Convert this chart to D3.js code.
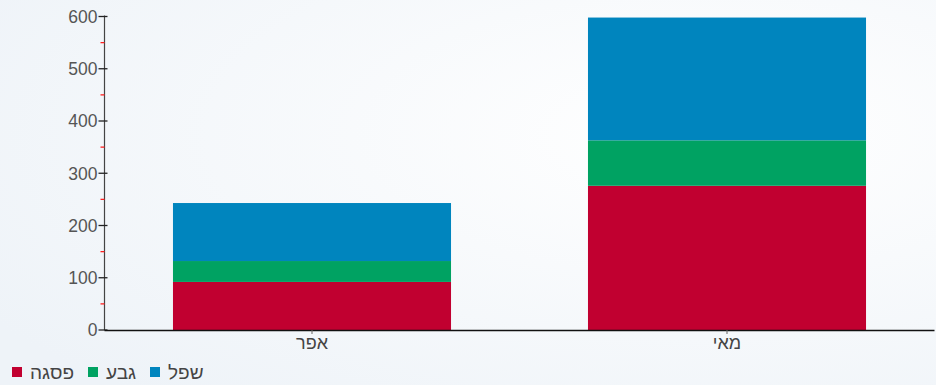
<!DOCTYPE html>
<html><head><meta charset="utf-8">
<script src="https://cdn.jsdelivr.net/npm/d3@7"></script>
<style>
html,body{margin:0;padding:0;}
body{width:936px;height:385px;overflow:hidden;font-family:"Liberation Sans",Arial,sans-serif;}
</style></head>
<body>
<svg id="c" width="936" height="385"></svg>
<script>
const categories = ["אפר", "מאי"];
const seriesNames = ["פסגה", "גבע", "שפל"];
const seriesColors = ["#c10030", "#00a262", "#0085be"];
const pisga = [92, 276];
const geva = [40, 87];
const shefel = [111, 235];
const yTicks = [0, 100, 200, 300, 400, 500, 600];
const yMinorTicks = [50, 150, 250, 350, 450, 550];

const svg = d3.select("#c");
const defs = svg.append("defs");
const grad = defs.append("radialGradient").attr("id","bg").attr("cx","0.75").attr("cy","0.35").attr("r","0.9");
grad.append("stop").attr("offset","0").attr("stop-color","#ffffff");
grad.append("stop").attr("offset","1").attr("stop-color","#eef3f8");
svg.append("rect").attr("width",936).attr("height",385).attr("fill","url(#bg)");

const x0 = 104.5, x1 = 934.5, yTop = 16.5, yBot = 330;
const x = d3.scaleBand().domain(categories).range([x0, x1]).paddingInner(0.33).paddingOuter(0.165);
const y = d3.scaleLinear().domain([0, 600]).range([yBot, yTop]);

const rows = categories.map((c, i) => ({cat: c, "פסגה": pisga[i], "גבע": geva[i], "שפל": shefel[i]}));
const stack = d3.stack().keys(seriesNames)(rows);

const g = svg.append("g");
stack.forEach((layer, li) => {
  g.selectAll(null).data(layer).enter().append("rect")
    .attr("x", d => x(d.data.cat))
    .attr("width", x.bandwidth())
    .attr("y", d => y(d[1]))
    .attr("height", d => y(d[0]) - y(d[1]))
    .attr("fill", seriesColors[li]);
});

// Y axis
const ya = svg.append("g").attr("transform", `translate(${x0},0)`);
ya.append("line").attr("y1", yTop - 1).attr("y2", yBot).attr("stroke", "#444").attr("stroke-width", 1.2);
ya.selectAll(".mj").data(yTicks).enter().append("line")
  .attr("x1", -6).attr("x2", 3).attr("y1", d => y(d)).attr("y2", d => y(d)).attr("stroke", "#222").attr("stroke-width", 1.3);
ya.selectAll(".mn").data(yMinorTicks).enter().append("line")
  .attr("x1", -4).attr("x2", 0).attr("y1", d => y(d)).attr("y2", d => y(d)).attr("stroke", "#ff2020").attr("stroke-width", 1.3);
ya.selectAll(".lb").data(yTicks).enter().append("text")
  .attr("x", -7).attr("y", d => y(d)).attr("dy", "0.36em").attr("text-anchor", "end")
  .attr("font-size", 17.5).attr("fill", "#555").text(d => d);

// X axis
const xa = svg.append("g");
xa.append("line").attr("x1", x0).attr("x2", x1).attr("y1", yBot + 0.5).attr("y2", yBot + 0.5).attr("stroke", "#111").attr("stroke-width", 1.3);
xa.selectAll(".xt").data(categories).enter().append("line")
  .attr("x1", d => x(d) + x.bandwidth()/2).attr("x2", d => x(d) + x.bandwidth()/2)
  .attr("y1", yBot).attr("y2", yBot + 4).attr("stroke", "#666").attr("stroke-width", 1);
xa.selectAll(".xl").data(categories).enter().append("text")
  .attr("x", d => x(d) + x.bandwidth()/2).attr("y", yBot + 19)
  .attr("text-anchor", "middle").attr("font-size", 18).attr("fill", "#444").text(d => d);

// Legend
const legX = [12, 88, 150];
const lg = svg.append("g");
seriesNames.forEach((n, i) => {
  lg.append("rect").attr("x", legX[i]).attr("y", 367).attr("width", 10).attr("height", 10).attr("fill", seriesColors[i]);
  lg.append("text").attr("x", legX[i] + 18).attr("y", 379).attr("font-size", 19).attr("fill", "#444")
    .attr("direction", "ltr").text(n);
});
</script>
</body></html>
